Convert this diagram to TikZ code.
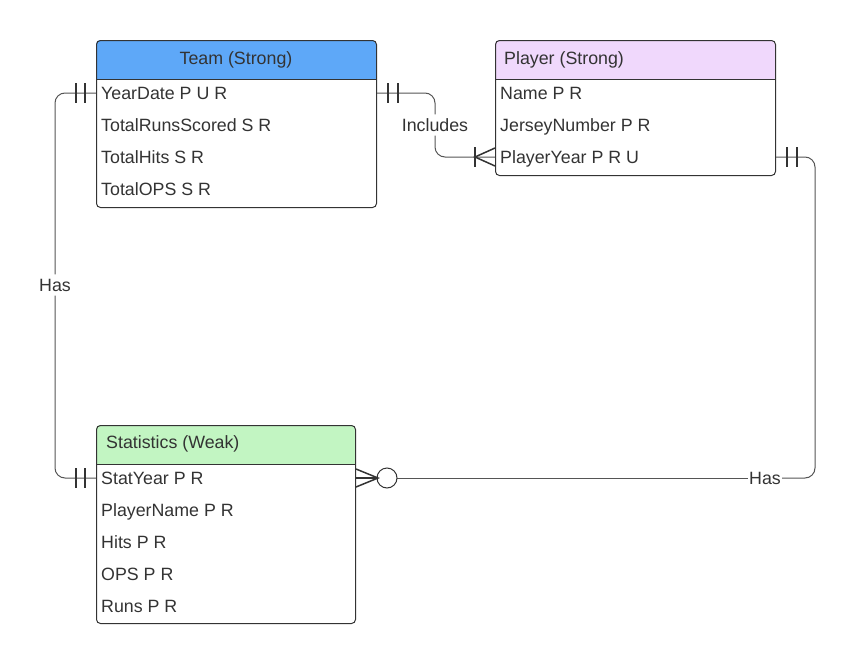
\documentclass[tikz,border=0pt]{standalone}
\usepackage{fontspec}
\setmainfont{Liberation Sans}
\usetikzlibrary{calc}

\definecolor{teamblue}{RGB}{94,168,248}
\definecolor{playerlav}{RGB}{240,216,252}
\definecolor{statgreen}{RGB}{194,245,194}
\definecolor{inkgray}{RGB}{51,51,51}
\definecolor{linegray}{RGB}{85,85,85}

\tikzset{
  txt/.style={inner sep=0pt, text=inkgray, text height=12.7pt, text depth=0pt,
    font=\fontsize{17.8}{20}\selectfont},
  attr/.style={txt, anchor=west},
  title/.style={txt},
  lbl/.style={txt, inner sep=4pt, fill=white},
  boxframe/.style={draw=inkgray, line width=1pt, rounded corners=4pt, anchor=north west},
  conn/.style={draw=linegray, line width=1pt, rounded corners=10pt},
  notch/.style={draw=inkgray, line width=1.5pt}
}

\begin{document}
\begin{tikzpicture}[x=1pt,y=-1pt]

\useasboundingbox (0,0) rectangle (857,664);

% Team
\begin{scope}
  \clip[rounded corners=4pt] (96,40) rectangle (376,207);
  \fill[teamblue] (96,40) rectangle (376,79);
\end{scope}
\node[boxframe, minimum width=280pt, minimum height=167pt] (teamb) at (96,40) {};
\draw[inkgray, line width=1pt] (96,79) -- (376,79);
\node[title] (team) at (236,58) {Team (Strong)};
\foreach \i/\t in {1/YearDate P U R, 2/TotalRunsScored S R, 3/TotalHits S R, 4/TotalOPS S R}
  \node[attr] (team\i) at (101,{61+32*\i}) {\t};

% Player
\begin{scope}
  \clip[rounded corners=4pt] (495,40) rectangle (775,175);
  \fill[playerlav] (495,40) rectangle (775,79);
\end{scope}
\node[boxframe, minimum width=280pt, minimum height=135pt] (pb) at (495,40) {};
\draw[inkgray, line width=1pt] (495,79) -- (775,79);
\node[title, anchor=west] (player) at (504,58) {Player (Strong)};
\foreach \i/\t in {1/Name P R, 2/JerseyNumber P R, 3/PlayerYear P R U}
  \node[attr] (pl\i) at (500,{61+32*\i}) {\t};

% Statistics
\begin{scope}
  \clip[rounded corners=4pt] (96,425) rectangle (355,623);
  \fill[statgreen] (96,425) rectangle (355,464);
\end{scope}
\node[boxframe, minimum width=259pt, minimum height=198pt] (statb) at (96,425) {};
\draw[inkgray, line width=1pt] (96,464) -- (355,464);
\node[title, anchor=west] (stats) at (106,442) {Statistics (Weak)};
\foreach \i/\t in {1/StatYear P R, 2/PlayerName P R, 3/Hits P R, 4/OPS P R, 5/Runs P R}
  \node[attr] (stat\i) at (101,{446+32*\i}) {\t};

% Relations
\node[lbl] (hasL) at (55,285) {Has};
\node[lbl] (incl) at (435,125) {Includes};
\node[lbl, inner sep=1pt] (hasR) at (765,478) {Has};
\coordinate (rturn) at (815,478);

\draw[conn] (teamb.west |- team1) -| (hasL.north);
\draw[conn] (hasL.south) |- (statb.west |- stat1);

\draw[conn] (teamb.east |- team1) -| (incl.north);
\draw[conn] (incl.south) |- (pb.west |- pl3);

\draw[conn] (pb.east |- pl3) -| (rturn) -- (hasR.east);
\draw[conn] (hasR.west) -- ($(statb.east |- stat1)+(41,0)$);

% Cardinalités
\foreach \dx in {-11,-20} {
  \draw[notch] ($(teamb.west |- team1)+(\dx,-10)$) -- +(0,20);
  \draw[notch] ($(statb.west |- stat1)+(\dx,-10)$) -- +(0,20);
}
\foreach \dx in {11,21} {
  \draw[notch] ($(teamb.east |- team1)+(\dx,-10)$) -- +(0,20);
  \draw[notch] ($(pb.east |- pl3)+(\dx,-10)$) -- +(0,20);
}
% un ou plusieurs
\draw[notch] ($(pb.west |- pl3)+(-20,-10)$) -- +(0,20);
\draw[notch] ($(pb.west |- pl3)+(0,-9)$) -- ($(pb.west |- pl3)+(-20,0)$) -- ($(pb.west |- pl3)+(0,9)$);
% zéro ou plusieurs
\draw[notch] ($(statb.east |- stat1)+(0,-9)$) -- ($(statb.east |- stat1)+(22,0)$) -- ($(statb.east |- stat1)+(0,9)$);
\draw[notch] (statb.east |- stat1) -- +(22,0);
\draw[notch, line width=1pt] ($(statb.east |- stat1)+(31,0)$) circle (10pt);

\end{tikzpicture}
\end{document}
